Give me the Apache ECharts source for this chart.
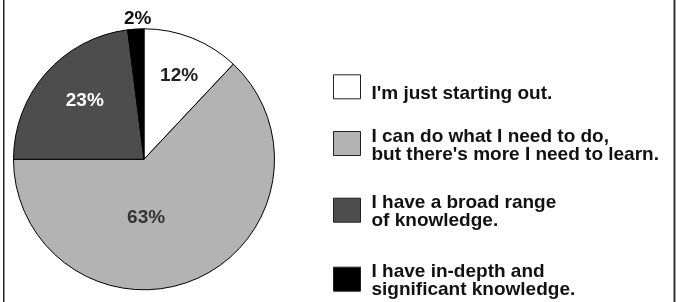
<!DOCTYPE html>
<html>
<head>
<meta charset="utf-8">
<script src="https://cdn.jsdelivr.net/npm/echarts@6/dist/echarts.min.js"></script>
<style>
html,body{margin:0;padding:0;background:#fff;}
#chart{width:676px;height:302px;}
</style>
</head>
<body>
<div id="chart"></div>
<script>
var categories = [
  "I'm just starting out.",
  "I can do what I need to do,\nbut there's more I need to learn.",
  "I have a broad range\nof knowledge.",
  "I have in-depth and\nsignificant knowledge."
];
var values = [12, 63, 23, 2];

var sliceColors = ['#ffffff', '#b3b3b3', '#4d4d4d', '#000000'];
var labelColors = ['#222222', '#333333', '#ffffff', '#111111'];
var labelNudge = [[10, -20], [-25, -4], [-8, -13], [-2, -72]];
var iconTops = [74.3, 131, 197.7, 266.7];
var textShift = [7, 2, 2, 2];

var FONT = "'Liberation Sans', Arial, Helvetica, sans-serif";

var chart = echarts.init(document.getElementById('chart'), null, {renderer: 'canvas'});

var data = categories.map(function (c, i) {
  return {
    name: c,
    value: values[i],
    itemStyle: {color: sliceColors[i], borderColor: '#000', borderWidth: 1},
    label: {color: labelColors[i]}
  };
});

var legends = categories.map(function (c, i) {
  var s = textShift[i];
  var H = 24 + 2 * s;
  var lines = c.split('\n').length;
  var textH = lines * 18;
  var boundTop = Math.min(0, H / 2 - textH / 2);
  return {
    orient: 'vertical',
    left: 333,
    top: iconTops[i] + boundTop,
    padding: 0,
    itemWidth: 27,
    itemHeight: H,
    selectedMode: false,
    data: [{name: c, icon: 'path://M0,0H27V24H0ZM0,' + H}],
    itemStyle: {borderColor: '#222', borderWidth: 1},
    textStyle: {
      fontFamily: FONT,
      fontWeight: 'bold',
      fontSize: 19,
      lineHeight: 18,
      color: '#111',
      padding: [0, 0, 0, 6]
    }
  };
});

chart.setOption({
  animation: false,
  backgroundColor: '#fff',
  legend: legends,
  graphic: [
    {type: 'line', shape: {x1: 3.75, y1: 0, x2: 3.75, y2: 302}, style: {stroke: '#222', lineWidth: 1.5}, silent: true},
    {type: 'line', shape: {x1: 674.5, y1: 0, x2: 674.5, y2: 302}, style: {stroke: '#333', lineWidth: 2}, silent: true}
  ],
  series: [{
    type: 'pie',
    center: [144, 159.3],
    radius: 130.5,
    startAngle: 90,
    clockwise: true,
    avoidLabelOverlap: false,
    silent: true,
    data: data,
    label: {
      show: true,
      position: 'inside',
      formatter: '{c}%',
      fontFamily: FONT,
      fontWeight: 'bold',
      fontSize: 19
    },
    labelLine: {show: false},
    labelLayout: function (params) {
      var n = labelNudge[params.dataIndex];
      return {dx: n[0], dy: n[1]};
    },
    emphasis: {disabled: true}
  }]
});
</script>
</body>
</html>
